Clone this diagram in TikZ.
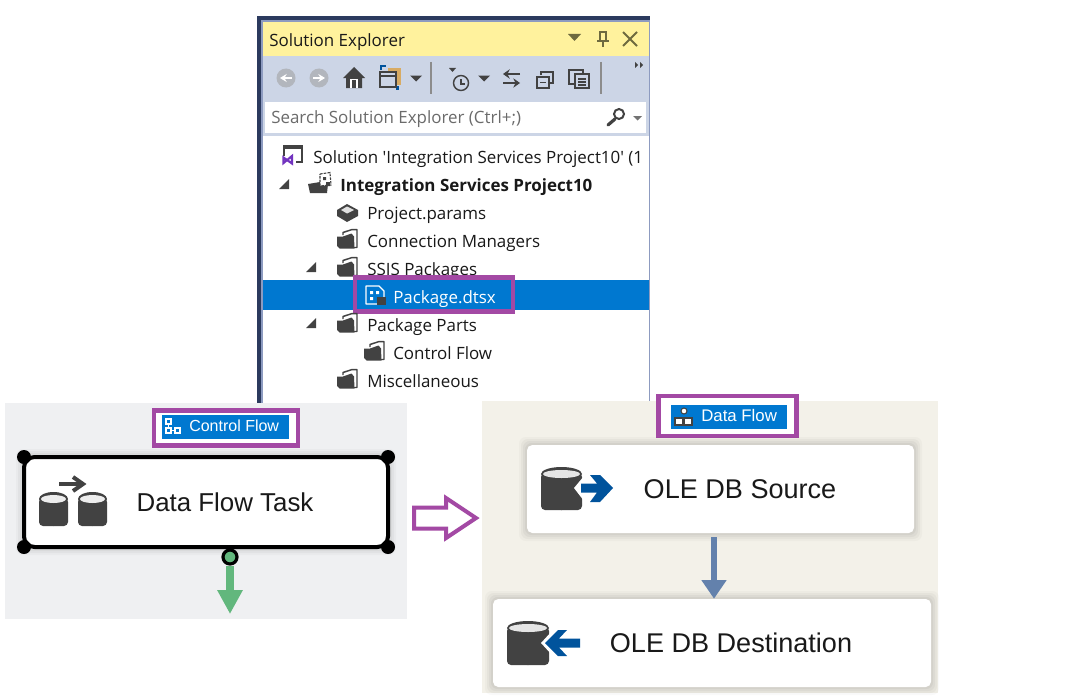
\documentclass[tikz,border=0pt]{standalone}
\usepackage{fontspec}
\setmainfont{Open Sans}
\newfontfamily\uifont{Open Sans}
\newfontfamily\arialf{Liberation Sans}
\usetikzlibrary{arrows.meta,calc}
\definecolor{navy}{HTML}{2B3A5E}
\definecolor{rim}{HTML}{8D9BC0}
\definecolor{titlebar}{HTML}{FFF29D}
\definecolor{titleicon}{HTML}{6E6A3F}
\definecolor{toolbar}{HTML}{CCD5E6}
\definecolor{selblue}{HTML}{0078D0}
\definecolor{purp}{HTML}{A349A4}
\definecolor{ink}{HTML}{424242}
\definecolor{cfbg}{HTML}{EFF0F2}
\definecolor{dfbg}{HTML}{F3F1E9}
\definecolor{flowgreen}{HTML}{62B77D}
\definecolor{flowblue}{HTML}{6381AC}
\definecolor{dbblue}{HTML}{00539C}
\definecolor{greyicon}{HTML}{B2B6BD}
\definecolor{tan}{HTML}{D8AB63}
\tikzset{
  x=0.75pt,y=-0.75pt,
  treetext/.style={anchor=base west,inner sep=0pt,font=\fontsize{12.7pt}{15pt}\selectfont,text=black!90},
  purplebox/.style={draw=purp,line width=3.6pt,fill=white,inner sep=0pt},
  tabblue/.style={fill=selblue,inner sep=0pt,text=white,font=\arialf\fontsize{12pt}{14pt}\selectfont},
  flowlabel/.style={inner sep=0pt,text=black!90,font=\arialf\fontsize{20.3pt}{22pt}\selectfont},
  compbox/.style={fill=white,rounded corners=4pt,inner sep=0pt},
  handle/.style={fill=black,circle,inner sep=0pt,minimum size=10.5pt},
  sepline/.style={draw=black!45,line width=1.5pt},
}
\newcommand{\softshadow}[4]{%
  \foreach \e/\o in {8/0.025,6/0.03,4/0.035,2/0.04}{%
    \fill[black,fill opacity=\o,rounded corners=5pt] (#1-\e,#2-\e) rectangle (#3+\e,#4+\e);}}
\newcommand{\folder}[2]{%
  \begin{scope}[shift={(#1,#2)}]
    \draw[ink,line width=1.1pt,line join=round] (5,6) -- (5,3.5) -- (13.5,0.7) -- (19,0.7) -- (19,18.5) -- (16,18.5);
    \fill[ink] (-1,7.5) -- (5,7.5) -- (13.5,4.5) -- (16,7.5) -- (16.5,19.5) -- (1.5,19.5) -- (-1,17) -- cycle;
  \end{scope}}
\newcommand{\treearrow}[2]{\fill[ink] (#1+5,#2-5) -- (#1+5,#2+5) -- (#1-5,#2+5) -- cycle;}
\newcommand{\dropdown}[2]{\fill[#1] ($(#2)+(-6,-2.5)$) -- ($(#2)+(6,-2.5)$) -- ($(#2)+(0,3.5)$) -- cycle;}
\newcommand{\cyl}[5]{% x1 y1 x2 y2 disc colour
  \fill[ink,rounded corners=3pt] (#1,{#2+6}) rectangle (#3,#4);
  \fill[ink] ({(#1+#3)/2},{#2+7}) ellipse [x radius={(#3-#1)/2},y radius=7];
  \fill[ink] ({(#1+#3)/2},{#4-6}) ellipse [x radius={(#3-#1)/2},y radius=6];
  \fill[#5] ({(#1+#3)/2},{#2+7}) ellipse [x radius={(#3-#1)/2-2},y radius=4];}
\begin{document}
\begin{tikzpicture}
\useasboundingbox (0,0) rectangle (1069,699);
\fill[white] (0,0) rectangle (1069,699);

% ---- Solution Explorer panel
\fill[navy] (257,16) rectangle (650,403);
\fill[rim] (261,20) rectangle (650,403);
\fill[white] (263,22) rectangle (649,403);
\fill[titlebar] (263,22) rectangle (649,56);
\fill[toolbar] (263,56) rectangle (649,136);
\fill[white] (265,102) rectangle (646,133);
\fill[white] (263,136) rectangle (649,403);
\node[treetext] (title) at (269,46) {Solution Explorer};
\fill[titleicon] (568,34) -- (581,34) -- (574.5,41) -- cycle;
\draw[titleicon,line width=1.1pt] (600,32) rectangle (606,41) (597,41) -- (609,41) (603,41) -- (603,47);
\draw[titleicon,line width=1.5pt] (623,32) -- (637,46) (637,32) -- (623,46);

% toolbar icons
\foreach \cx in {286,319}{\fill[greyicon] (\cx,78) circle [radius=9.5];}
\draw[white,line width=1.6pt,-{Stealth[length=5pt,width=6pt]}] (292,78) -- (280,78);
\draw[white,line width=1.6pt,-{Stealth[length=5pt,width=6pt]}] (313,78) -- (325,78);
\fill[ink] (343,78) -- (354,67) -- (365,78) -- (362,78) -- (362,88) -- (346,88) -- (346,78) -- cycle;
\fill[white] (350,79) rectangle (358,88);
\fill[ink] (352,80) rectangle (356,88);
\fill[tan] (388,68) rectangle (401,85);
\draw[ink,fill=toolbar,line width=1.2pt] (380,72) rectangle (396,87);
\draw[ink,line width=1.2pt] (380,76) -- (396,76);
\draw[dbblue,line width=1.1pt] (381,70) -- (381,66) -- (386,66);
\draw[dbblue,line width=1.1pt] (398,86) -- (398,89) -- (396,89);
\dropdown{ink}{416,78}
\draw[sepline] (431,62) -- (431,94);
\fill[ink] (449,68) -- (456,68) -- (452.5,72) -- cycle;
\draw[ink,line width=1.1pt] (461,83) circle [radius=7.5];
\draw[ink,line width=1pt] (461,79) -- (461,84) -- (465,84);
\dropdown{ink}{484,78}
\draw[ink,line width=1.6pt,-{Stealth[length=5pt,width=7pt]}] (520,74) -- (503,74);
\draw[ink,line width=1.6pt,-{Stealth[length=5pt,width=7pt]}] (503,83) -- (520,83);
\draw[ink,line width=1.1pt] (541,75) -- (541,72) -- (553,72) -- (553,83) -- (550,83);
\draw[ink,line width=1.1pt,fill=toolbar] (537,77) rectangle (549,88);
\draw[ink,line width=1.1pt] (540,82.5) -- (546,82.5);
\draw[ink,line width=1.1pt,fill=toolbar] (569,70) rectangle (583,84);
\draw[ink,line width=1.1pt,fill=toolbar] (575,74) -- (589,74) -- (589,88) -- (575,88) -- cycle;
\draw[ink,line width=.9pt] (578,79) -- (586,79) (578,82) -- (586,82) (578,85) -- (586,85);
\draw[sepline] (601,62) -- (601,94);
\fill[ink] (635,62) -- (638,65) -- (635,68) -- cycle (640,62) -- (643,65) -- (640,68) -- cycle;

% search
\node[treetext,text=black!58] (search) at (271,123) {Search Solution Explorer (Ctrl+;)};
\draw[ink,line width=1.5pt] (619,114) circle [radius=5];
\draw[ink,line width=2.4pt,line cap=round] (615,119) -- (608,125);
\fill[black!55] (633,116) -- (642,116) -- (637.5,120.5) -- cycle;

% tree
\node[treetext,font=\uifont\fontsize{12.7pt}{15pt}\selectfont] (sol) at (313,163) {Solution 'Integration Services Project10' (1};
\draw[ink,line width=.9pt] (284,156) -- (284,146) -- (302,146) -- (302,162) -- (296,162);
\fill[ink] (283,145) rectangle (303,149);
\draw[purp!70!blue,line width=1.6pt] (283.5,157.5) -- (292,163.5) -- (292,156) -- (283.5,163) -- cycle;
\treearrow{284}{184}
\fill[ink] (308,184) -- (320,182) -- (328,184) -- (327,193) -- (310,193) -- cycle;
\draw[ink,line width=.8pt,fill=white,dash pattern=on 2pt off .8pt] (320,174) -- (330,172.5) -- (331,185) -- (320,186) -- cycle;
\fill[ink] (323,177) rectangle (326,180) (326,182) rectangle (330,186);
\node[treetext,font=\bfseries\fontsize{12.7pt}{15pt}\selectfont] (proj) at (340,191) {Integration Services Project10};
\fill[ink] (337,210) -- (347,204) -- (358,210) -- (358,216) -- (347,222) -- (337,216) -- cycle;
\fill[black!12] (341,210) -- (347,206.5) -- (354,210) -- (347,213.5) -- cycle;
\node[treetext] (params) at (367,219) {Project.params};
\folder{338}{229}
\node[treetext] (conn) at (367,247) {Connection Managers};
\treearrow{311}{267}
\folder{338}{257}
\node[treetext] (ssis) at (367,275) {SSIS Packages};
\fill[selblue] (263,280) rectangle (649,310);
\node[purplebox,fill=none,minimum width=118.5pt,minimum height=26pt] (pkgbox) at (434,294.5) {};
\draw[white,line width=1pt,line join=round] (366,286) -- (379,286) -- (384,291) -- (384,304) -- (366,304) -- cycle;
\fill[white] (370,291) rectangle (373,294) (376,291) rectangle (379,294) (370,297) rectangle (373,300);
\fill[ink] (377,297) rectangle (386,305);
\node[treetext,text=white] (pkg) at (393,303) {Package.dtsx};
\treearrow{311}{323}
\folder{338}{313}
\node[treetext] (parts) at (367,331) {Package Parts};
\folder{365}{341}
\node[treetext] (cflow) at (393,359) {Control Flow};
\folder{338}{369}
\node[treetext] (misc) at (367,387) {Miscellaneous};

% ---- Control flow panel
\fill[cfbg] (5,403) rectangle (407,619);
\node[purplebox,minimum width=108pt,minimum height=26.5pt] (cfbox) at (226,428) {};
\node[tabblue,minimum width=95.5pt,minimum height=18pt] (cftab) at (225.5,427) {};
\draw[white,line width=.8pt] (166,419) rectangle (171,424) (166,428) rectangle (171,433) (175,428) rectangle (180,433);
\draw[white,line width=.7pt] (168.5,424) -- (168.5,428) (171,430.5) -- (175,430.5);
\node[anchor=base west,inner sep=0pt,text=white,font=\arialf\fontsize{12pt}{14pt}\selectfont] (cflabel) at (189,431.5) {Control Flow};

\softshadow{24}{457}{388}{547}
\node[compbox,draw=black,line width=3pt,minimum width=273pt,minimum height=67.5pt,rounded corners=8pt] (dft) at (206,502) {};
\node[handle] (h1) at (24,457) {};
\node[handle] (h2) at (388,457) {};
\node[handle] (h3) at (24,547) {};
\node[handle] (h4) at (388,547) {};
\cyl{39}{492}{68}{526}{black!7}
\cyl{78}{492}{107}{526}{black!7}
\draw[ink,line width=3pt] (59,484) -- (83,484);
\draw[ink,line width=3pt] (73,477) -- (83,484) -- (73,491);
\node[flowlabel,font=\arialf\fontsize{19.4pt}{22pt}\selectfont] (dftl) at (225,502) {Data Flow Task};
\node[circle,draw=black,line width=2.4pt,fill=flowgreen,minimum size=10.5pt,inner sep=0pt] (port) at (230,557) {};
\coordinate (cfend) at (230,614);
\draw[flowgreen,line width=6pt,-{Triangle[length=18pt,width=18pt]}] (port.south) -- (cfend);

% ---- Outline arrow
\draw[purp,line width=3pt,miter limit=10] (414,507.5) -- (446,507.5) -- (446,498) -- (476,518) -- (446,538) -- (446,528.5) -- (414,528.5) -- cycle;

% ---- Data flow panel
\fill[dfbg] (482,401) rectangle (938,693);
\node[purplebox,minimum width=103.5pt,minimum height=30pt] (dfbox) at (727.5,416) {};
\node[tabblue,minimum width=87pt,minimum height=18pt] (dftab) at (729,417) {};
\draw[ink,fill=white,line width=.8pt] (684,411) circle [radius=3];
\draw[ink,fill=white,line width=.8pt] (675,418) rectangle (683,425) (684,418) rectangle (692,425);
\node[anchor=base west,inner sep=0pt,text=white,font=\arialf\fontsize{12.6pt}{14pt}\selectfont] (dflabel) at (701,421.5) {Data Flow};

\softshadow{527}{445}{914}{533}
\node[compbox,minimum width=290.25pt,minimum height=66pt] (src) at (720.5,489) {};
\cyl{541}{467}{582}{510}{black!10}
\fill[white] (584,476) -- (574,488) -- (584,501) -- (596,501) -- (596,476) -- cycle;
\fill[dbblue] (581,483.5) -- (597,483.5) -- (590,475) -- (600,475) -- (613,488) -- (600,502) -- (590,502) -- (597,492.5) -- (581,492.5) -- cycle;
\node[flowlabel] (srcl) at (740,489) {OLE DB Source};

\softshadow{493}{599}{931}{687}
\node[compbox,minimum width=328.5pt,minimum height=66pt] (dst) at (712,643) {};
\cyl{507}{621}{549}{665}{black!10}
\fill[white] (552,631) -- (541,643) -- (552,655) -- (552,655) -- cycle;
\fill[dbblue] (545,643) -- (558,630) -- (567,630) -- (559,638.5) -- (580,638.5) -- (580,647.5) -- (559,647.5) -- (567,656) -- (558,656) -- cycle;
\node[flowlabel] (dstl) at (731,643) {OLE DB Destination};
\draw[flowblue,line width=4.5pt,shorten <=3pt,-{Triangle[length=14pt,width=18pt]}] (src.south -| 714,0) -- (dst.north -| 714,0);
\end{tikzpicture}
\end{document}
